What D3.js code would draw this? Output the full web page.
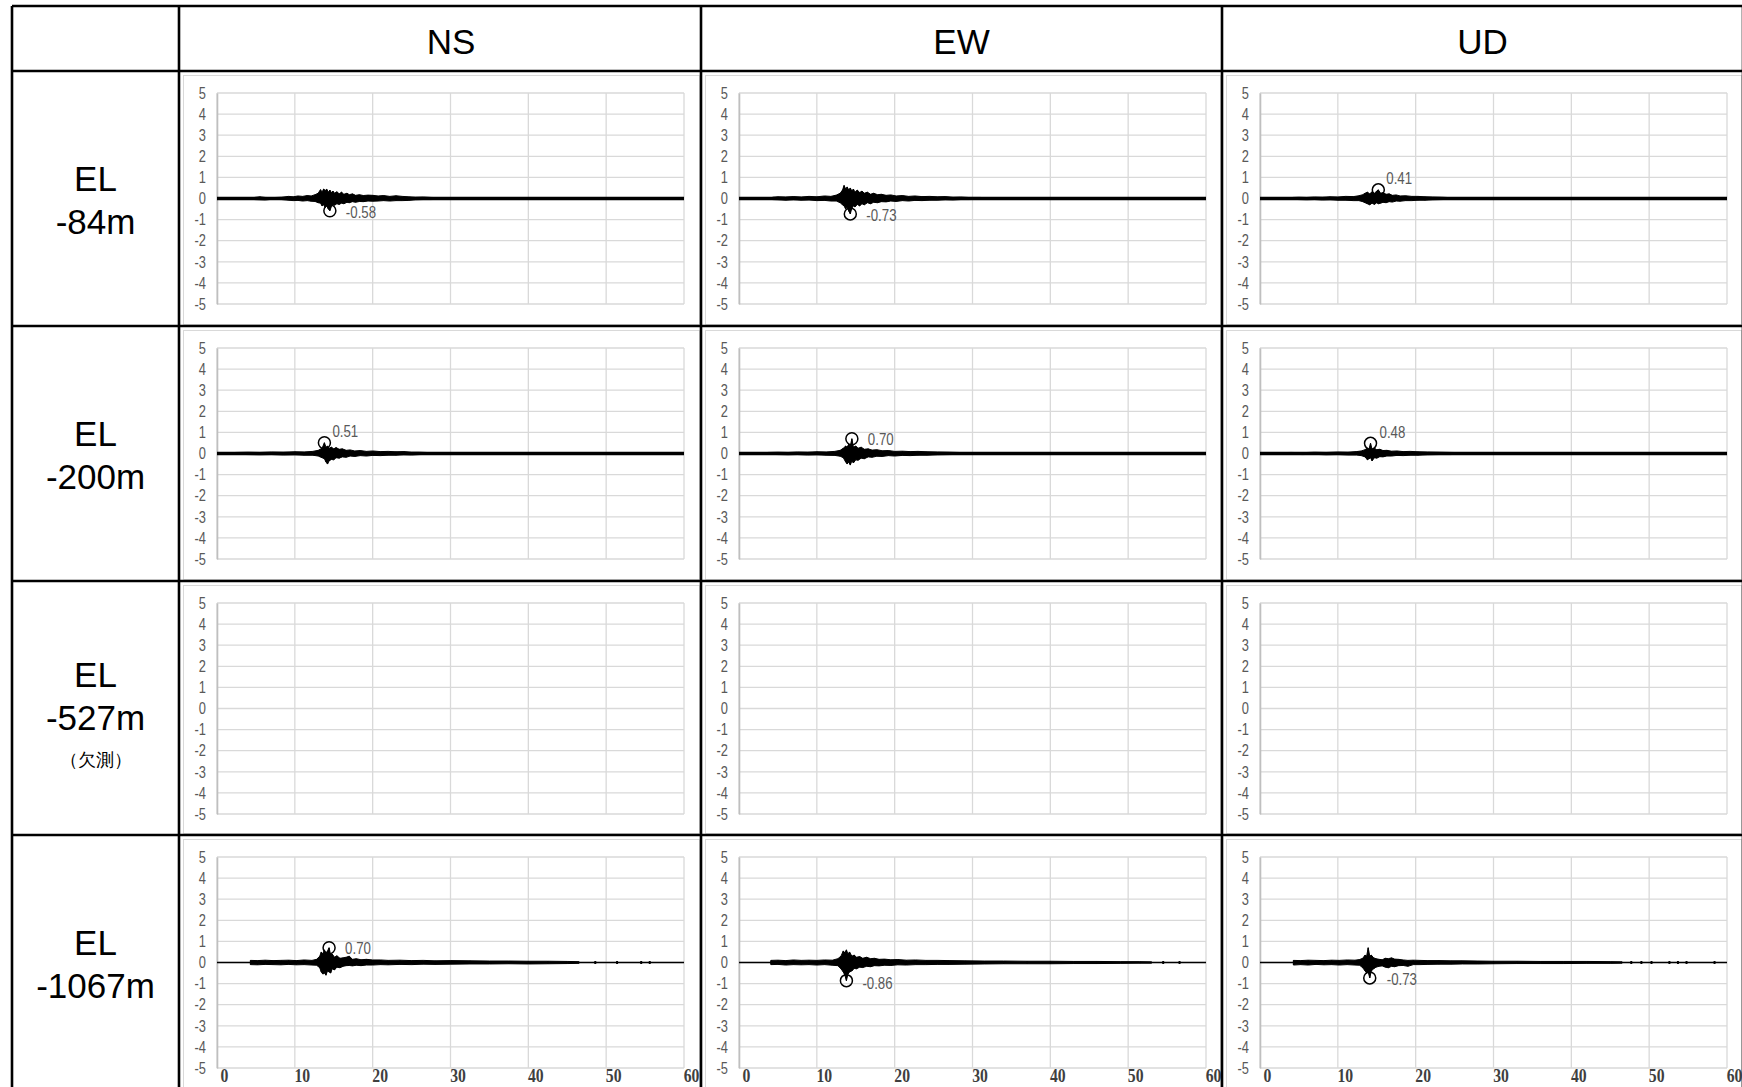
<!DOCTYPE html>
<html>
<head>
<meta charset="utf-8">
<script src="https://cdn.jsdelivr.net/npm/d3@7"></script>
<style>
  html, body { margin: 0; padding: 0; background: #fff; }
  svg { display: block; }
  .cell-text { font-family: "Liberation Sans", Arial, sans-serif; fill: #000; }
  .tick-y text, .peak-label { font-family: "Liberation Sans", Arial, sans-serif; fill: #595959; }
</style>
</head>
<body>
<svg id="chart" width="1742" height="1087"></svg>
<script>
// table headings
var components = ["NS", "EW", "UD"];
var levels = [["EL", "-84m"], ["EL", "-200m"], ["EL", "-527m", "（欠測）"], ["EL", "-1067m"]];

// axis ticks
var timeTicks = [0, 10, 20, 30, 40, 50, 60];
var accTicks = [5, 4, 3, 2, 1, 0, -1, -2, -3, -4, -5];

// envelopes: [time s, upper, lower]
var ns84 = [[4.8,.05,-.05],[5.5,.08,-.06],[6.2,.05,-.07],[7,.04,-.04],[8.3,.06,-.05],[9.2,.1,-.08],[9.8,.08,-.1],[10.4,.12,-.09],[11,.1,-.12],[11.6,.14,-.1],[12.1,.12,-.13],[12.6,.18,-.14],[13,.25,-.2],[13.3,.42,-.22],[13.5,.3,-.35],[13.7,.45,-.3],[13.9,.38,-.42],[14.1,.44,-.35],[14.3,.3,-.5],[14.5,.4,-.58],[14.7,.28,-.38],[14.9,.35,-.3],[15.1,.25,-.32],[15.4,.32,-.25],[15.7,.22,-.28],[16,.3,-.22],[16.3,.2,-.25],[16.7,.25,-.18],[17,.18,-.2],[17.4,.22,-.15],[17.8,.15,-.18],[18.3,.18,-.14],[18.8,.14,-.15],[19.4,.16,-.12],[20,.15,-.13],[20.7,.12,-.12],[21.4,.14,-.1],[22.2,.1,-.12],[23,.13,-.1],[23.8,.1,-.1],[24.6,.08,-.09],[25.5,.06,-.06],[26.5,.07,-.05],[27.5,.05,-.05],[28.5,.04,-.04],[30,.03,-.03]];
var ew84 = [[4.3,.06,-.05],[5,.08,-.06],[6,.07,-.08],[7,.09,-.06],[8,.07,-.08],[9,.1,-.07],[10,.08,-.1],[11,.12,-.09],[11.8,.1,-.12],[12.5,.16,-.12],[13,.25,-.2],[13.3,.4,-.3],[13.5,.62,-.35],[13.7,.45,-.5],[13.9,.55,-.4],[14.1,.4,-.6],[14.3,.5,-.73],[14.5,.35,-.45],[14.7,.45,-.35],[14.9,.3,-.4],[15.2,.4,-.28],[15.5,.28,-.35],[15.8,.35,-.25],[16.1,.25,-.3],[16.5,.3,-.2],[16.9,.2,-.25],[17.3,.25,-.18],[17.8,.18,-.2],[18.3,.2,-.15],[18.9,.15,-.16],[19.5,.17,-.12],[20.2,.12,-.14],[21,.14,-.1],[21.8,.1,-.12],[22.6,.12,-.09],[23.5,.09,-.1],[24.5,.1,-.08],[25.5,.08,-.08],[26.5,.09,-.06],[27.5,.06,-.07],[28.5,.07,-.05],[29.5,.05,-.05],[31,.05,-.04],[32,.03,-.03]];
var ud84 = [[4.2,.05,-.04],[5,.06,-.05],[6,.05,-.06],[7,.07,-.05],[8,.06,-.07],[9,.08,-.06],[10,.07,-.08],[11,.1,-.08],[12,.09,-.1],[12.7,.13,-.1],[13.2,.18,-.15],[13.5,.25,-.2],[13.8,.3,-.25],[14.1,.22,-.3],[14.4,.32,-.22],[14.7,.25,-.28],[15,.35,-.2],[15.2,.41,-.25],[15.5,.25,-.22],[15.8,.28,-.18],[16.2,.2,-.2],[16.6,.22,-.15],[17,.15,-.17],[17.5,.17,-.12],[18,.12,-.13],[18.7,.13,-.1],[19.5,.1,-.1],[20.3,.1,-.08],[21.2,.08,-.08],[22.2,.07,-.06],[23.3,.06,-.05],[24.5,.04,-.04]];
var ns200 = [[1,.03,-.03],[2.5,.05,-.04],[4,.06,-.05],[5.5,.05,-.06],[7,.07,-.05],[8.5,.06,-.07],[10,.08,-.06],[11.2,.07,-.08],[12.3,.1,-.08],[13,.15,-.12],[13.5,.25,-.2],[13.8,.51,-.25],[14,.3,-.4],[14.2,.35,-.5],[14.4,.25,-.35],[14.7,.3,-.28],[15,.22,-.3],[15.3,.28,-.2],[15.7,.2,-.22],[16.1,.22,-.16],[16.6,.15,-.18],[17.1,.17,-.12],[17.7,.12,-.14],[18.4,.14,-.1],[19.2,.1,-.12],[20,.12,-.09],[21,.09,-.1],[22,.1,-.08],[23,.08,-.08],[24,.09,-.06],[25,.06,-.07],[26,.06,-.05],[27.5,.04,-.04]];
var ew200 = [[3.7,.05,-.04],[5,.06,-.05],[6.3,.05,-.06],[7.5,.07,-.05],[8.8,.06,-.07],[10,.08,-.06],[11.2,.07,-.08],[12.3,.1,-.09],[13,.15,-.13],[13.4,.25,-.2],[13.7,.35,-.4],[13.9,.3,-.5],[14.1,.45,-.4],[14.3,.35,-.55],[14.5,.7,-.35],[14.7,.3,-.45],[15,.35,-.3],[15.3,.25,-.32],[15.7,.3,-.22],[16.1,.2,-.25],[16.6,.22,-.16],[17.1,.16,-.18],[17.7,.18,-.13],[18.4,.13,-.14],[19.2,.14,-.1],[20,.1,-.12],[21,.11,-.09],[22,.09,-.1],[23,.1,-.08],[24.2,.08,-.08],[25.5,.07,-.06],[27,.06,-.05],[29,.04,-.04]];
var ud200 = [[1,.03,-.03],[2.5,.04,-.04],[4,.05,-.04],[5.5,.04,-.05],[7,.06,-.04],[8.5,.05,-.06],[10,.07,-.05],[11.3,.06,-.07],[12.4,.09,-.07],[13,.12,-.1],[13.5,.18,-.16],[13.8,.25,-.3],[14,.2,-.25],[14.2,.48,-.2],[14.4,.2,-.35],[14.7,.25,-.2],[15,.18,-.22],[15.4,.2,-.15],[15.8,.14,-.16],[16.3,.15,-.12],[16.9,.11,-.12],[17.6,.12,-.09],[18.4,.09,-.1],[19.3,.1,-.08],[20.3,.08,-.08],[21.5,.07,-.06],[23,.06,-.05],[24.5,.05,-.05],[26,.04,-.03]];
var ns1067 = [[4.3,.1,-.1],[5.2,.09,-.11],[6.2,.11,-.09],[7.2,.09,-.1],[8.2,.1,-.11],[9.2,.11,-.09],[10.2,.09,-.11],[11.2,.12,-.1],[12.2,.1,-.12],[12.8,.15,-.13],[13.2,.3,-.25],[13.4,.5,-.45],[13.6,.4,-.55],[13.8,.6,-.5],[14,.45,-.6],[14.2,.55,-.4],[14.4,.7,-.45],[14.6,.35,-.5],[14.8,.4,-.3],[15.1,.25,-.35],[15.4,.32,-.22],[15.8,.2,-.25],[16.2,.22,-.18],[16.6,.25,-.15],[17,.3,-.14],[17.4,.15,-.16],[17.9,.18,-.13],[18.5,.13,-.15],[19.2,.15,-.12],[20,.12,-.12],[21,.12,-.1],[22,.1,-.11],[23.5,.11,-.09],[25,.09,-.1],[26.5,.1,-.08],[28,.08,-.09],[30,.09,-.08],[32.5,.08,-.07],[35,.07,-.07],[37.5,.07,-.06],[40,.06,-.07],[42.5,.06,-.06],[45,.05,-.05],[46.5,.04,-.04]];
var ew1067 = [[4.1,.1,-.1],[5,.11,-.09],[6,.09,-.12],[7,.12,-.1],[8,.1,-.11],[9,.11,-.1],[10,.1,-.12],[11,.12,-.1],[12,.11,-.13],[12.7,.18,-.15],[13.1,.3,-.3],[13.4,.55,-.45],[13.6,.45,-.6],[13.8,.6,-.86],[14,.4,-.55],[14.2,.5,-.45],[14.5,.3,-.4],[14.8,.35,-.28],[15.1,.25,-.3],[15.5,.28,-.22],[15.9,.2,-.24],[16.4,.25,-.18],[16.9,.18,-.2],[17.4,.2,-.15],[18,.15,-.16],[18.7,.16,-.13],[19.5,.13,-.14],[20.4,.14,-.11],[21.5,.11,-.12],[22.7,.12,-.1],[24,.1,-.1],[25.5,.1,-.09],[27,.09,-.09],[29,.08,-.08],[31.5,.07,-.07],[34,.07,-.06],[37,.06,-.06],[40,.06,-.06],[43,.05,-.05],[46,.05,-.05],[49,.04,-.04],[51.5,.04,-.03],[53,.03,-.03]];
var ud1067 = [[4.3,.1,-.12],[5.2,.09,-.1],[6.2,.11,-.12],[7.2,.1,-.09],[8.2,.09,-.11],[9.2,.11,-.1],[10.2,.1,-.12],[11.2,.12,-.1],[12.2,.11,-.12],[12.8,.14,-.13],[13.2,.2,-.25],[13.5,.35,-.4],[13.7,.3,-.5],[13.9,.7,-.45],[14.1,.3,-.73],[14.3,.35,-.4],[14.6,.22,-.3],[14.9,.18,-.22],[15.3,.15,-.18],[15.7,.13,-.16],[16.1,.2,-.22],[16.5,.18,-.25],[16.9,.22,-.18],[17.3,.16,-.2],[17.8,.15,-.15],[18.4,.12,-.14],[19,.1,-.18],[19.7,.11,-.1],[20.5,.1,-.1],[21.5,.09,-.09],[23,.09,-.08],[24.5,.08,-.08],[26,.08,-.07],[28,.07,-.07],[30,.06,-.06],[33,.06,-.05],[36,.05,-.05],[39,.05,-.05],[42,.05,-.04],[45,.04,-.04],[46.5,.03,-.03]];

// isolated blips late in the record (time s)
var ns1067Blips = [48.6, 51.4, 54.5, 55.6];
var ew1067Blips = [54.5, 56.6];
var ud1067Blips = [47.7, 49.0, 50.3, 52.6, 53.7, 54.8, 58.4];

// marked peaks: [time s, value]
var peaks84 = [[14.5, -0.58], [14.3, -0.73], [15.2, 0.41]];
var peaks200 = [[13.8, 0.51], [14.5, 0.70], [14.2, 0.48]];
var peaks1067 = [[14.4, 0.70], [13.8, -0.86], [14.1, -0.73]];

var rows = [
    {traces: [ns84, ew84, ud84], peaks: peaks84, blips: [[], [], []]},
    {traces: [ns200, ew200, ud200], peaks: peaks200, blips: [[], [], []]},
    {traces: null, peaks: null, blips: null},
    {traces: [ns1067, ew1067, ud1067], peaks: peaks1067, blips: [ns1067Blips, ew1067Blips, ud1067Blips]}
];

var svg = d3.select("#chart");
var colX = [12, 179, 701, 1222, 1743],
    rowY = [6, 71, 326, 581, 835, 1092],
    cs = {
        grid: "#d9d9d9",
        axis: "#bfbfbf",
        plotDx: 38, plotDy: 22, plotW: 467, plotH: 211,
        squeeze: 0.78,
        baseWidth: [3.5, 3.5, 0, 1.4],
        // label offsets (px) from the peak circle
        labelOff: [[[16, 1], [16, 1], [8, -12]], [[8, -12], [16, 0], [9, -12]], null, [[16, 0], [16, 2], [17, 1]]]
    };

var signed = v => String(v.toFixed(2));

for (var r = 0; r < 4; r++) {
    for (var c = 0; c < 3; c++) {
        drawCell(r, c);
    }
}

function drawCell(r, c) {
    var cx = colX[c + 1], cy = rowY[r + 1],
        cw = colX[c + 2] - cx, ch = rowY[r + 2] - cy;
    var g = svg.append("g");
    g.append("rect")
        .attr("x", cx + 4.5).attr("y", cy + 4.5)
        .attr("width", cw - 6).attr("height", ch - 6)
        .attr("fill", "none").attr("stroke", cs.grid).attr("stroke-width", 1);

    var left = cx + cs.plotDx, top = cy + cs.plotDy;
    var x = d3.scaleLinear().domain([0, 60]).range([left, left + cs.plotW]);
    var y = d3.scaleLinear().domain([-5, 5]).range([top + cs.plotH, top]);

    g.append("g").selectAll("line").data(accTicks).enter().append("line")
        .attr("x1", x(0)).attr("x2", x(60))
        .attr("y1", d => y(d)).attr("y2", d => y(d))
        .attr("stroke", cs.grid).attr("stroke-width", 1.3);
    g.append("g").selectAll("line").data(timeTicks).enter().append("line")
        .attr("y1", y(5)).attr("y2", y(-5))
        .attr("x1", d => x(d)).attr("x2", d => x(d))
        .attr("stroke", cs.grid).attr("stroke-width", 1.3);

    var yAxis = d3.axisLeft(y).tickValues(accTicks).tickSize(0).tickFormat(d => String(d));
    var ya = g.append("g").attr("class", "tick-y")
        .attr("transform", "translate(" + x(0) + ",0)").call(yAxis);
    ya.select(".domain").attr("stroke", cs.axis).attr("stroke-width", 1.6);
    ya.selectAll("text").attr("font-size", 16.5)
        .attr("x", -11 / cs.squeeze)
        .attr("transform", "scale(" + cs.squeeze + ",1)");

    if (r === 3) {
        var xAxis = d3.axisBottom(x).tickValues(timeTicks).tickSize(0).tickPadding(1);
        var xa = g.append("g")
            .attr("transform", "translate(0," + y(-5) + ")").call(xAxis);
        xa.select(".domain").remove();
        xa.selectAll("text")
            .attr("font-family", "'Liberation Serif', 'DejaVu Serif', serif")
            .attr("font-weight", "bold")
            .attr("fill", "#3f3f3f")
            .attr("font-size", 18.5)
            .attr("x", 7 / 0.85)
            .attr("transform", "scale(0.85,1)");
    }

    var row = rows[r];
    if (!row.traces) return;
    var trace = row.traces[c];

    g.append("line")
        .attr("x1", x(0)).attr("x2", x(60)).attr("y1", y(0)).attr("y2", y(0))
        .attr("stroke", "#000").attr("stroke-width", cs.baseWidth[r]);

    var area = d3.area()
        .x(d => x(d[0]))
        .y0(d => y(d[2]))
        .y1(d => y(d[1]));
    g.append("path").datum(trace)
        .attr("d", area)
        .attr("fill", "#000").attr("stroke", "#000").attr("stroke-width", 1);

    g.append("g").selectAll("line").data(trace).enter().append("line")
        .attr("x1", d => x(d[0])).attr("x2", d => x(d[0]))
        .attr("y1", d => y(d[1])).attr("y2", d => y(d[2]))
        .attr("stroke", "#000").attr("stroke-width", 1.2);

    g.append("g").selectAll("line").data(row.blips[c]).enter().append("line")
        .attr("x1", d => x(d)).attr("x2", d => x(d))
        .attr("y1", y(0.07)).attr("y2", y(-0.07))
        .attr("stroke", "#000").attr("stroke-width", 2);

    var pk = row.peaks[c], off = cs.labelOff[r][c];
    g.append("circle")
        .attr("cx", x(pk[0])).attr("cy", y(pk[1])).attr("r", 6)
        .attr("fill", "none").attr("stroke", "#000").attr("stroke-width", 1.5);
    g.append("text").attr("class", "peak-label")
        .attr("transform", "translate(" + (x(pk[0]) + off[0]) + "," + (y(pk[1]) + off[1]) + ") scale(" + cs.squeeze + ",1)")
        .attr("dominant-baseline", "central")
        .attr("font-size", 17)
        .text(signed(pk[1]));
}

// header texts
svg.append("g").selectAll("text").data(components).enter().append("text")
    .attr("class", "cell-text")
    .attr("x", (d, i) => i === 0 ? 451 : (colX[i + 1] + colX[i + 2]) / 2)
    .attr("y", 41)
    .attr("text-anchor", "middle").attr("dominant-baseline", "central")
    .attr("font-size", 35)
    .text(d => d);

// row labels
levels.forEach(function (lines, r) {
    var top = rowY[r + 1];
    var offs = lines.length === 3 ? [93, 136, 179] : [107, 150];
    lines.forEach(function (t, i) {
        svg.append("text").attr("class", "cell-text")
            .attr("x", (colX[0] + colX[1]) / 2)
            .attr("y", top + offs[i])
            .attr("text-anchor", "middle").attr("dominant-baseline", "central")
            .attr("font-size", i === 2 ? 18 : 35)
            .attr("font-family", i === 2 ? "'Noto Sans CJK JP', sans-serif" : null)
            .text(t);
    });
});

// table rules
var rules = svg.append("g").attr("stroke", "#000").attr("stroke-width", 2.6);
rules.selectAll(".v").data(colX).enter().append("line")
    .attr("x1", d => d).attr("x2", d => d)
    .attr("y1", rowY[0]).attr("y2", rowY[5]);
rules.selectAll(".h").data(rowY).enter().append("line")
    .attr("y1", d => d).attr("y2", d => d)
    .attr("x1", colX[0]).attr("x2", colX[4]);
</script>
</body>
</html>
